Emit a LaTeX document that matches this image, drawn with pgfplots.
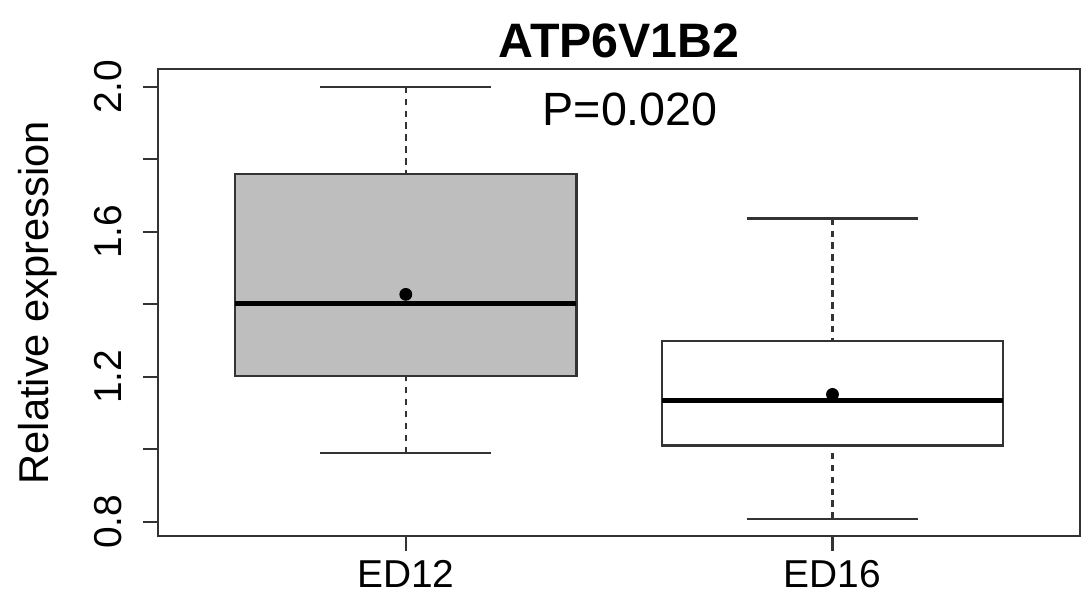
\documentclass[border=0pt]{standalone}
\usepackage{fontspec}
\setmainfont{Liberation Sans}
\usepackage{pgfplots}
\pgfplotsset{compat=1.18}
\usepgfplotslibrary{statistics}

\definecolor{rgray}{HTML}{BEBEBE}
\definecolor{rline}{HTML}{333333}

\pgfplotsset{
  rwhisk/.style={
    boxplot/draw/lower whisker/.code={%
      \draw[draw=rline, line width=0.8pt, dash pattern=on 2.3pt off 2pt]
        (boxplot box cs:\pgfplotsboxplotvalue{lower whisker},0.5) --
        (boxplot box cs:\pgfplotsboxplotvalue{lower quartile},0.5);
      \draw[draw=rline, line width=0.8pt]
        (boxplot whisker cs:\pgfplotsboxplotvalue{lower whisker},0) --
        (boxplot whisker cs:\pgfplotsboxplotvalue{lower whisker},1);
    },
    boxplot/draw/upper whisker/.code={%
      \draw[draw=rline, line width=0.8pt, dash pattern=on 2.3pt off 2pt]
        (boxplot box cs:\pgfplotsboxplotvalue{upper whisker},0.5) --
        (boxplot box cs:\pgfplotsboxplotvalue{upper quartile},0.5);
      \draw[draw=rline, line width=0.8pt]
        (boxplot whisker cs:\pgfplotsboxplotvalue{upper whisker},0) --
        (boxplot whisker cs:\pgfplotsboxplotvalue{upper whisker},1);
    },
    boxplot/draw/average/.code={%
      \fill[black] (boxplot box cs:\pgfplotsboxplotvalue{average},0.5) circle[radius=2.1pt];
    },
    boxplot/every median/.style={draw=black, line width=1.8pt},
    boxplot/every box/.style={draw=rline, line width=0.8pt},
  }
}

\begin{document}
\begin{tikzpicture}
\begin{axis}[
  at={(0,0)}, anchor=south west,
  scale only axis,
  width=331.81pt, height=168.01pt,
  xmin=0.42, xmax=2.58,
  ymin=0.7605, ymax=2.0478,
  axis line style={rline, line width=0.8pt},
  tick style={rline, line width=0.8pt},
  tick align=outside,
  major tick length=5.4pt,
  tick pos=left,
  xtick={1,2},
  xticklabels={ED12,ED16},
  ytick={0.8,1.0,1.2,1.4,1.6,1.8,2.0},
  yticklabels={0.8,,1.2,,1.6,,2.0},
  tick label style={font=\fontsize{14}{16}\selectfont},
  xticklabel style={anchor=north, yshift=0pt},
  yticklabel style={xshift=-4.3pt, rotate=90, anchor=south},
  boxplot/draw direction=y,
  every axis y label/.style={at={(axis description cs:-0.1195,0.5)}, rotate=90, anchor=base},
  ylabel={Relative expression},
  ylabel style={font=\fontsize{15}{18}\selectfont},
  title={ATP6V1B2},
  title style={at={(axis description cs:0.5,1)}, anchor=base, yshift=-1.7pt, font=\bfseries\fontsize{17.4}{20}\selectfont},
]
\addplot[rwhisk, fill=rgray,
  boxplot prepared={
    draw position=1,
    lower whisker=0.989,
    lower quartile=1.202,
    median=1.4005,
    upper quartile=1.759,
    upper whisker=2.0,
    average=1.427,
    box extend=0.8,
    whisker extend=0.4
  }] coordinates {};
\addplot[rwhisk, fill=white,
  boxplot prepared={
    draw position=2,
    lower whisker=0.808,
    lower quartile=1.010,
    median=1.133,
    upper quartile=1.299,
    upper whisker=1.636,
    average=1.151,
    box extend=0.8,
    whisker extend=0.4
  }] coordinates {};
\node[anchor=base, font=\fontsize{16.8}{19}\selectfont] at (axis cs:1.526,1.8916) {P=0.020};
\end{axis}
\pgfresetboundingbox
\path (-56.99pt,-24.48pt) rectangle (335.05pt,192.96pt);
\end{tikzpicture}
\end{document}
